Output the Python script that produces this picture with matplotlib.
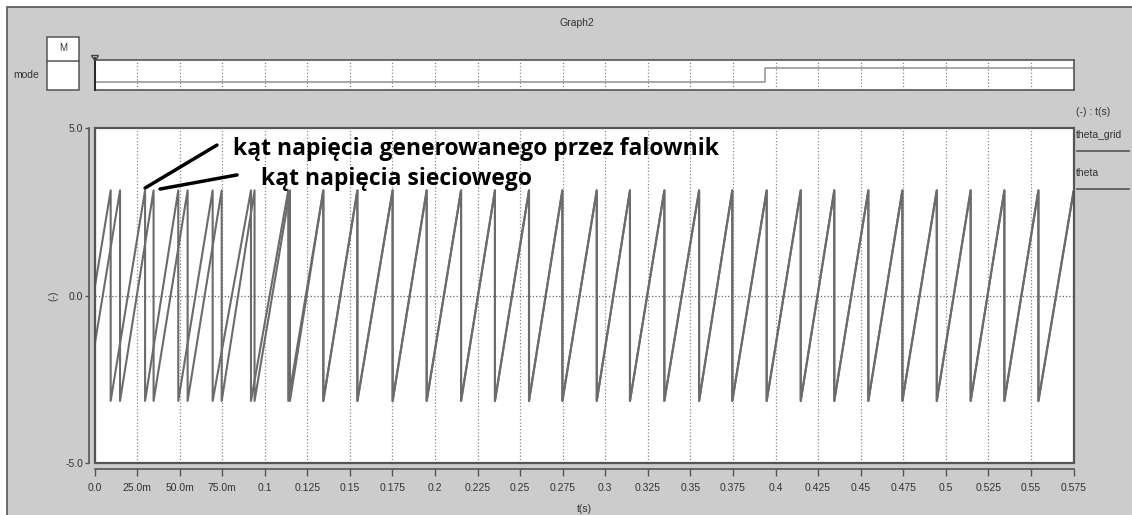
import matplotlib
matplotlib.use('Agg')
import matplotlib.pyplot as plt
from matplotlib.patches import Rectangle, Polygon
from matplotlib.lines import Line2D

W, H = 1132, 515

# czasy "zawiniecia" pily (z +pi na -pi)
grid_wraps = [0.0150, 0.0347, 0.0547, 0.0747, 0.0940, 0.1148, 0.1344, 0.1544,
              0.1751, 0.1951, 0.2153, 0.2352, 0.2552, 0.2748, 0.2950, 0.3145,
              0.3347, 0.3551, 0.3746, 0.3948, 0.4148, 0.4345, 0.4545, 0.4745,
              0.4947, 0.5146, 0.5344, 0.5544]
theta_wraps = [0.0095, 0.0297, 0.0492, 0.0694, 0.0919, 0.1138, 0.1344, 0.1544,
               0.1751, 0.1951, 0.2153, 0.2352, 0.2552, 0.2748, 0.2950, 0.3145,
               0.3347, 0.3551, 0.3746, 0.3948, 0.4148, 0.4345, 0.4545, 0.4745,
               0.4947, 0.5146, 0.5344, 0.5544]
grid_start = -1.5
theta_start = 0.2
end_val = 3.1
peak = 3.14
t_end = 0.575

mode_t = [0.0, 0.3938, 0.575]
mode_val = [0, 1, 1]

xticks = [0.0, 0.025, 0.05, 0.075, 0.1, 0.125, 0.15, 0.175, 0.2, 0.225, 0.25,
          0.275, 0.3, 0.325, 0.35, 0.375, 0.4, 0.425, 0.45, 0.475, 0.5, 0.525,
          0.55, 0.575]
xlabels = ['0.0', '25.0m', '50.0m', '75.0m', '0.1', '0.125', '0.15', '0.175',
           '0.2', '0.225', '0.25', '0.275', '0.3', '0.325', '0.35', '0.375',
           '0.4', '0.425', '0.45', '0.475', '0.5', '0.525', '0.55', '0.575']
yticks = [-5.0, 0.0, 5.0]
ylabels = ['-5.0', '0.0', '5.0']

LINE = '#6b6b6b'
FRAME = '#555555'
TXT = '#333333'
BG = '#cccccc'

plt.rcParams['font.family'] = ['Liberation Sans', 'DejaVu Sans']


def saw(start, wraps):
    ts, vs = [0.0], [start]
    for w in wraps:
        ts += [w, w]
        vs += [peak, -peak]
    ts.append(t_end)
    vs.append(end_val)
    return ts, vs


def box(l, t, r, b):
    return [l / W, 1 - b / H, (r - l) / W, (b - t) / H]


def fx(x):
    return x / W


def fy(y):
    return 1 - y / H


fig = plt.figure(figsize=(W / 100, H / 100), dpi=100, facecolor='white')
fig.patches.append(Rectangle((fx(7), -0.02), 1, fy(7) + 0.02, transform=fig.transFigure,
                             facecolor=BG, edgecolor=FRAME, lw=1.2, zorder=-10))

fig.text(fx(577), fy(23), 'Graph2', ha='center', va='center', fontsize=7.5, color=TXT)

# panel mode
axm = fig.add_axes(box(94.5, 60, 1073.5, 90))
axm.step(mode_t, mode_val, where='post', color='#a0a0a0', lw=1.3)
axm.set_xlim(0, t_end)
axm.set_ylim(-0.6, 1.55)
axm.set_xticks(xticks)
axm.set_yticks([])
axm.tick_params(axis='x', length=0, labelbottom=False)
axm.grid(axis='x', ls=':', color='#888888', lw=0.9)
for s in axm.spines.values():
    s.set_color(FRAME)
    s.set_linewidth(1.2)
# kursor
fig.lines.append(Line2D([fx(95), fx(95)], [fy(58), fy(90)], transform=fig.transFigure,
                        color='#222222', lw=1.3, zorder=10))
fig.patches.append(Polygon([(fx(91.5), fy(55.5)), (fx(98.5), fy(55.5)), (fx(95), fy(61))],
                           closed=True, transform=fig.transFigure,
                           facecolor='none', edgecolor='#444444', lw=1, zorder=10))

# pudelko M
fig.patches.append(Rectangle((fx(47.3), fy(90)), fx(32), 53 / H,
                             transform=fig.transFigure, facecolor='white',
                             edgecolor=FRAME, lw=1.1, zorder=5))
fig.lines.append(Line2D([fx(47.3), fx(79.3)], [fy(61), fy(61)], transform=fig.transFigure,
                        color=FRAME, lw=1.1, zorder=6))
fig.text(fx(63.3), fy(48), 'M', ha='center', va='center', fontsize=7, color=TXT, zorder=12)
fig.text(fx(26), fy(75.5), 'mode', ha='center', va='center', fontsize=7.5, color=TXT)

# panel glowny
ax = fig.add_axes(box(94.5, 128, 1073.5, 463.3))
tg, vg = saw(grid_start, grid_wraps)
tt, vt = saw(theta_start, theta_wraps)
ax.plot(tg, vg, color=LINE, lw=1.5)
ax.plot(tt, vt, color=LINE, lw=1.5)
ax.set_xlim(0, t_end)
ax.set_ylim(-5, 5)
ax.set_xticks(xticks)
ax.set_xticklabels(xlabels)
ax.set_yticks(yticks)
ax.set_yticklabels(ylabels)
ax.grid(axis='x', ls=':', color='#888888', lw=0.9)
ax.axhline(0, ls=':', color='#666666', lw=0.9)
for side in ['top', 'right']:
    ax.spines[side].set_visible(False)
for side in ['left', 'bottom']:
    ax.spines[side].set_position(('outward', 4))
    ax.spines[side].set_color(FRAME)
    ax.spines[side].set_linewidth(1.2)
ax.add_patch(Rectangle((0, 0), 1, 1, transform=ax.transAxes, facecolor='none',
                       edgecolor=FRAME, lw=1.6, clip_on=False, zorder=5))
ax.tick_params(axis='x', direction='out', length=5, width=1, color=FRAME,
               labelsize=7.5, labelcolor=TXT, pad=5)
ax.tick_params(axis='y', direction='out', length=3, width=1, color=FRAME,
               labelsize=7.5, labelcolor=TXT, pad=1)
ax.set_xlabel('t(s)', fontsize=7.5, color=TXT, labelpad=8)
ax.set_ylabel('(-)', fontsize=7.5, color=TXT, labelpad=5)

# legenda po prawej
fig.text(fx(1076), fy(112), '(-) : t(s)', ha='left', va='center', fontsize=7.5, color=TXT)
fig.text(fx(1076), fy(135), 'theta_grid', ha='left', va='center', fontsize=7.5, color=TXT)
fig.text(fx(1076), fy(173), 'theta', ha='left', va='center', fontsize=7.5, color=TXT)
for ly in [150.7, 189]:
    fig.lines.append(Line2D([fx(1077), fx(1129)], [fy(ly), fy(ly)], transform=fig.transFigure,
                            color='#555555', lw=1.2))

# opisy
ax.plot([0.0297, 0.0719], [3.21, 4.49], color='black', lw=2.5, solid_capstyle='round')
ax.plot([0.0385, 0.0837], [3.18, 3.60], color='black', lw=2.5, solid_capstyle='round')
ax.text(0.0813, 4.19, 'kąt napięcia generowanego przez falownik', fontsize=16.5,
        fontweight='bold', family=['Open Sans', 'DejaVu Sans'], va='baseline', ha='left')
ax.text(0.0978, 3.30, 'kąt napięcia sieciowego', fontsize=16.5,
        fontweight='bold', family=['Open Sans', 'DejaVu Sans'], va='baseline', ha='left')

fig.savefig('out.png', dpi=100, facecolor=fig.get_facecolor())
